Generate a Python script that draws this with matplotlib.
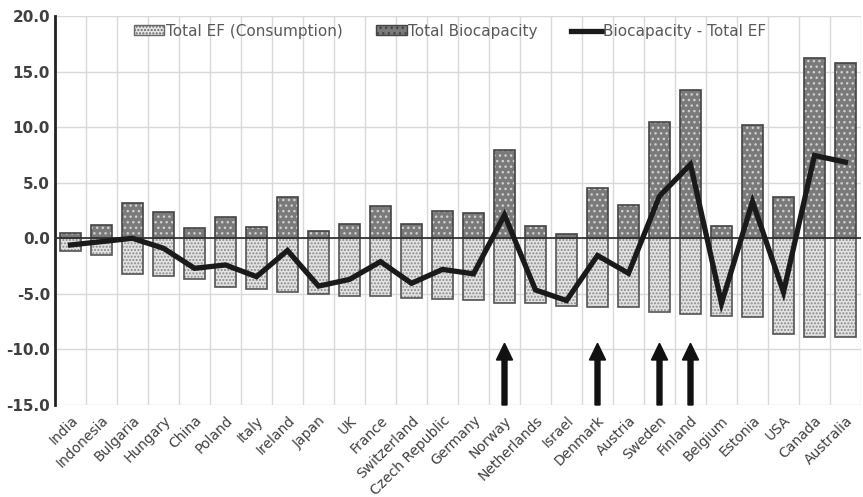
import numpy as np
import matplotlib
matplotlib.use('Agg')
import matplotlib.pyplot as plt
from matplotlib.patches import Patch
from matplotlib.lines import Line2D

countries = ['India', 'Indonesia', 'Bulgaria', 'Hungary', 'China', 'Poland', 'Italy',
             'Ireland', 'Japan', 'UK', 'France', 'Switzerland', 'Czech Republic',
             'Germany', 'Norway', 'Netherlands', 'Israel', 'Denmark', 'Austria',
             'Sweden', 'Finland', 'Belgium', 'Estonia', 'USA', 'Canada', 'Australia']
total_ef = [-1.1, -1.5, -3.2, -3.35, -3.65, -4.4, -4.55, -4.85, -5.05, -5.15, -5.15,
            -5.35, -5.45, -5.55, -5.85, -5.85, -6.05, -6.2, -6.2, -6.6, -6.8, -7.0,
            -7.05, -8.65, -8.85, -8.85]
biocapacity = [0.45, 1.2, 3.15, 2.35, 0.95, 1.95, 1.05, 3.7, 0.65, 1.25, 2.9, 1.25,
               2.45, 2.25, 7.95, 1.1, 0.35, 4.55, 3.0, 10.45, 13.35, 1.15, 10.2, 3.75,
               16.25, 15.75]
balance = [-0.6, -0.3, 0.0, -0.9, -2.7, -2.4, -3.45, -1.1, -4.3, -3.7, -2.1, -4.05,
           -2.8, -3.2, 2.1, -4.65, -5.6, -1.55, -3.15, 3.8, 6.65, -5.85, 3.3, -4.85,
           7.45, 6.85]
highlighted = ['Norway', 'Denmark', 'Sweden', 'Finland']

x = np.arange(len(countries))
w = 0.7

fig = plt.figure(figsize=(8.63, 4.97), dpi=100)
ax = fig.add_axes([55 / 863, 1 - 405 / 497, 806 / 863, 389 / 497])

# bars: hatched fill first, then outline on top
ax.bar(x, total_ef, w, color='#e3e3e3', edgecolor='#8a8a8a', hatch='.....', linewidth=0, zorder=2)
ax.bar(x, total_ef, w, fill=False, edgecolor='#555555', linewidth=1.2, zorder=3)
ax.bar(x, biocapacity, w, color='#7a7a7a', edgecolor='#d0d0d0', hatch='...', linewidth=0, zorder=2)
ax.bar(x, biocapacity, w, fill=False, edgecolor='#444444', linewidth=1.2, zorder=3)

ax.axhline(0, color='#333333', linewidth=1.3, zorder=4)
ax.plot(x, balance, color='#1a1a1a', linewidth=3.8, solid_joinstyle='miter', zorder=5)

# arrows under the four Nordic countries
for c in highlighted:
    i = countries.index(c)
    ax.arrow(i, -15, 0, 5.55, width=0.16, head_width=0.52, head_length=1.5,
             length_includes_head=True, color='#111111', zorder=6, clip_on=False)

handles = [Patch(facecolor='#e3e3e3', edgecolor='#666666', hatch='.....', label='Total EF (Consumption)'),
           Patch(facecolor='#7a7a7a', edgecolor='#444444', hatch='...', label='Total Biocapacity'),
           Line2D([0], [0], color='#1a1a1a', lw=3.8, label='Biocapacity - Total EF')]
leg = ax.legend(handles=handles, loc='upper center', bbox_to_anchor=(0.49, 1.0), ncol=3,
                frameon=False, fontsize=11, handlelength=2.0, handleheight=0.6,
                handletextpad=0.1, columnspacing=2.2, borderaxespad=0.1)
for t in leg.get_texts():
    t.set_color('#595959')

ax.set_xlim(-0.5, len(countries) - 0.5)
ax.set_ylim(-15, 20)
ax.set_yticks(np.arange(-15, 21, 5))
ax.set_yticklabels([f'{v:.1f}' for v in np.arange(-15, 21, 5)], fontsize=11,
                   fontweight='bold', color='#404040')
ax.set_xticks(x)
ax.set_xticklabels(countries, rotation=45, ha='right', rotation_mode='anchor',
                   fontsize=10, color='#404040')
ax.set_xticks(np.arange(-0.5, len(countries), 1), minor=True)
ax.tick_params(axis='both', which='both', length=0)
ax.tick_params(axis='x', pad=6)
ax.grid(axis='y', color='#d9d9d9', linewidth=1, zorder=0)
ax.grid(axis='x', which='minor', color='#d9d9d9', linewidth=1, zorder=0)
ax.set_axisbelow(True)
for s in ['top', 'right', 'bottom']:
    ax.spines[s].set_visible(False)
ax.spines['left'].set_linewidth(2)
ax.spines['left'].set_color('#222222')

fig.savefig('out.png', dpi=100)
